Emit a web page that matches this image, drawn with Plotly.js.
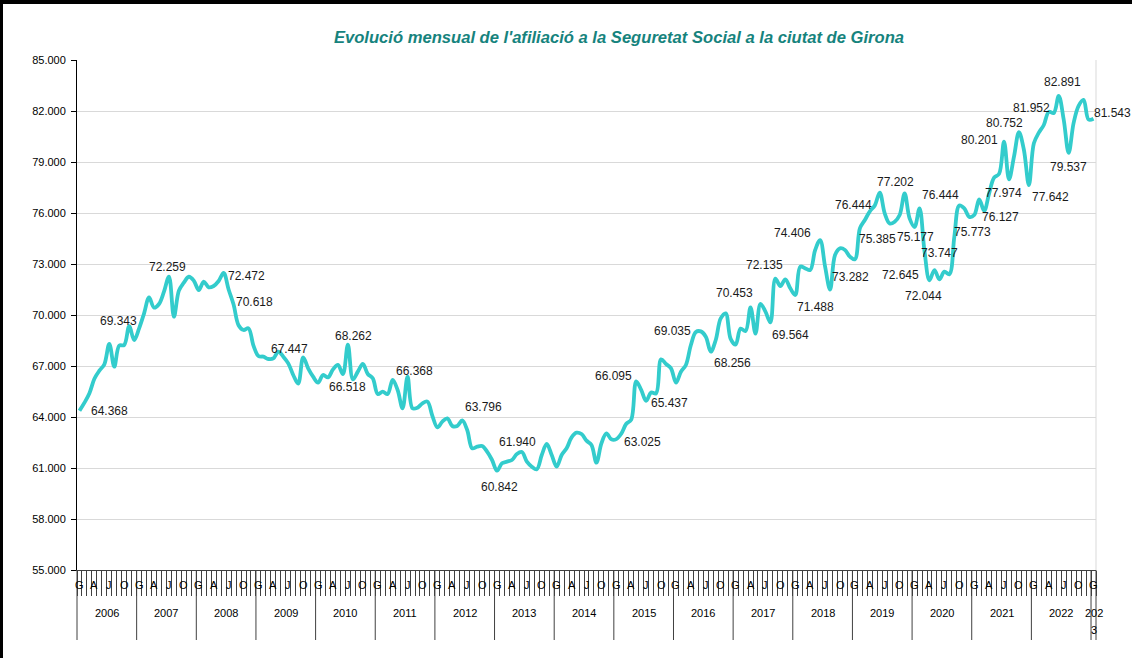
<!DOCTYPE html>
<html>
<head>
<meta charset="utf-8">
<script src="https://cdn.plot.ly/plotly-3.0.1.min.js"></script>
<style>
html,body{margin:0;padding:0;background:#ffffff;}
#chart{width:1132px;height:658px;}
</style>
</head>
<body>
<div id="chart"></div>
<script>
// ---------------- DATA ----------------
const years = ['2006','2007','2008','2009','2010','2011','2012','2013','2014','2015','2016','2017','2018','2019','2020','2021','2022','2023'];
const monthLetters = ['G','A','J','O']; // gener, abril, juliol, octubre

const afiliacio = [
  64368, 64844, 65400, 66250, 66725, 67100, 68300, 66960, 68200, 68236, 69343, 68530, // 2006
  69216, 70098, 71040, 70432, 70648, 71373, 72259, 69900, 71432, 71900, 72250, 72020, // 2007
  71470, 71960, 71628, 71706, 72000, 72472, 71500, 70618, 69400, 69118, 69216, 68200, // 2008
  67588, 67549, 67412, 67447, 67843, 67549, 67157, 66470, 65960, 67510, 66863, 66373, // 2009
  66020, 66470, 66333, 66800, 67060, 66518, 68262, 66216, 66668, 67118, 66530, 66275, // 2010
  65354, 65491, 65354, 66177, 65589, 64510, 66368, 64510, 64550, 64805, 64903, 64059, // 2011
  63393, 63726, 63922, 63471, 63471, 63796, 63236, 62157, 62255, 62295, 61961, 61471, // 2012
  60842, 61275, 61373, 61471, 61824, 61940, 61373, 61079, 60922, 61765, 62412, 61765, // 2013
  61079, 61765, 62157, 62804, 63079, 63000, 62608, 62353, 61313, 62451, 63040, 62686, // 2014
  62700, 63025, 63600, 63850, 66095, 65600, 64950, 65437, 65391, 67391, 67117, 66862, // 2015
  66019, 66666, 67058, 68235, 69000, 69035, 68725, 67843, 68529, 69803, 70097, 68600, // 2016
  68256, 69200, 69050, 70453, 68900, 70650, 70200, 69564, 72135, 71700, 72100, 71568, // 2017
  71176, 72843, 72745, 72647, 73824, 74406, 72843, 71488, 73529, 73921, 73824, 73431, // 2018
  73282, 75098, 75588, 76100, 76444, 77202, 75980, 75385, 75490, 75882, 77157, 75686, // 2019
  75177, 76274, 73747, 72044, 72645, 72100, 72550, 72400, 74607, 76444, 76274, 75773, // 2020
  75882, 76800, 76127, 77157, 78078, 78300, 80201, 77974, 79314, 80752, 79706, 77642, // 2021
  80098, 80726, 81177, 81952, 81882, 82891, 81500, 79537, 81300, 82300, 82650, 81500, // 2022
  81543                                                                               // 2023
];

// months that carry a data label
const labelIdx = [0,10,18,29,31,39,53,54,66,77,84,89,109,112,115,125,132,135,139,140,149,151,
                  156,160,161,163,168,170,171,172,177,179,182,186,187,189,191,195,197,199,204];

// ---------------- STYLE / PLACEMENT ----------------
// label offsets in screen pixels [dx, dy] (dy positive = downwards)
const labelOffset = {
  0:[30,0], 10:[-11,-5], 18:[-1,-10], 29:[23,3], 31:[21,-2], 39:[16,-9], 53:[5,13], 54:[6,-9],
  66:[7,-6], 77:[21,-13], 84:[2,16], 89:[-4,-10], 109:[21,8], 112:[-23,-5], 115:[18,10],
  125:[-28,0], 132:[-3,18], 135:[-16,-14], 139:[20,13], 140:[-11,-14], 149:[-28,-7], 151:[-15,17],
  156:[-4,18], 160:[-21,0], 161:[16,-11], 163:[-12,16], 168:[1,10], 170:[15,2], 171:[-6,16],
  172:[-34,5], 177:[-19,-10], 179:[3,15], 182:[16,6], 186:[-25,-2], 187:[-6,14], 189:[-14,-9],
  191:[22,12], 195:[-17,-4], 197:[4,-14], 199:[0,14], 204:[19,-6]
};

const FONT = 'Liberation Sans, Arial, Helvetica, sans-serif';
const W = 1132, H = 658;
const M = {l:77, r:36, t:60, b:88};
const plotW = W - M.l - M.r, plotH = H - M.t - M.b;

function fmt(v){ return Math.round(v).toString().replace(/\B(?=(\d{3})+(?!\d))/g, '.'); }

const n = afiliacio.length;
const idx = afiliacio.map((_, i) => i);

const trace = {
  x: idx, y: afiliacio, type: 'scatter', mode: 'lines',
  line: {color: '#33CCCC', width: 3.8, shape: 'spline', smoothing: 1},
  hoverinfo: 'skip', showlegend: false
};

const annotations = [];
// data labels
labelIdx.forEach(i => {
  const o = labelOffset[i] || [0, -12];
  annotations.push({
    x: i, y: afiliacio[i], xref: 'x', yref: 'y', text: fmt(afiliacio[i]),
    showarrow: false, xshift: o[0], yshift: -o[1],
    font: {family: FONT, size: 12, color: '#1a1a1a'}
  });
});

// month letters and year labels
const toPaperY = px => -(px) / plotH; // px below the axis line
years.forEach((yr, k) => {
  const start = k * 12;
  const end = Math.min(start + 12, n);
  for (let q = 0; q < monthLetters.length; q++) {
    const m = start + q * 3;
    if (m < n) {
      annotations.push({x: m, y: 0, xref: 'x', yref: 'paper', yanchor: 'middle',
        text: monthLetters[q], showarrow: false, yshift: -15,
        font: {family: FONT, size: 11, color: '#000'}});
    }
  }
  const center = (start + end - 1) / 2;
  if (end - start >= 6) {
    annotations.push({x: center, y: 0, xref: 'x', yref: 'paper', yanchor: 'middle',
      text: yr, showarrow: false, yshift: -43, font: {family: FONT, size: 11, color: '#000'}});
  } else {
    annotations.push({x: center, y: 0, xref: 'x', yref: 'paper', yanchor: 'middle',
      text: yr.slice(0, 3), showarrow: false, yshift: -43, font: {family: FONT, size: 11, color: '#000'}});
    annotations.push({x: center, y: 0, xref: 'x', yref: 'paper', yanchor: 'middle',
      text: yr.slice(3), showarrow: false, yshift: -60, font: {family: FONT, size: 11, color: '#000'}});
  }
});

// shapes: year dividers, right plot border, outer frame
const shapes = [];
const boundaries = [];
years.forEach((yr, k) => boundaries.push(k * 12 - 0.5));
boundaries.push(n - 0.5);
boundaries.forEach(b => {
  const xp = (b + 0.5) / n;
  shapes.push({type: 'line', xref: 'paper', yref: 'paper', x0: xp, x1: xp, y0: 0, y1: toPaperY(70),
    line: {color: '#404040', width: 1}});
});
shapes.push({type: 'line', xref: 'paper', yref: 'paper', x0: 1, x1: 1, y0: 0, y1: 1,
  line: {color: '#d9d9d9', width: 1}});
// outer frame (top and left black border)
const pxX = px => (px - M.l) / plotW;
const pxY = py => (H - M.b - py) / plotH;
shapes.push({type: 'rect', xref: 'paper', yref: 'paper', x0: pxX(0), x1: pxX(W), y0: pxY(0), y1: pxY(4),
  fillcolor: '#000', line: {width: 0}});
shapes.push({type: 'rect', xref: 'paper', yref: 'paper', x0: pxX(0), x1: pxX(3), y0: pxY(0), y1: pxY(H),
  fillcolor: '#000', line: {width: 0}});

const monthTicks = [];
for (let i = 0; i <= n; i++) monthTicks.push(i - 0.5);

const layout = {
  width: W, height: H,
  margin: M,
  paper_bgcolor: '#ffffff', plot_bgcolor: '#ffffff',
  separators: ',.',
  showlegend: false,
  title: {
    text: "<b><i>Evolució mensual de l'afiliació a la Seguretat Social a la ciutat de Girona</i></b>",
    font: {family: 'Liberation Sans Narrow, Liberation Sans, Arial, sans-serif', size: 16.6, color: '#16837d'},
    xref: 'container', x: 619 / W, xanchor: 'center',
    yref: 'container', y: 1 - 37 / H, yanchor: 'middle'
  },
  xaxis: {
    range: [-0.5, n - 0.5], showgrid: false, zeroline: false,
    showline: true, linecolor: '#404040', linewidth: 1,
    tickmode: 'array', tickvals: monthTicks, ticktext: monthTicks.map(() => ''),
    ticks: 'outside', ticklen: 25, tickwidth: 1, tickcolor: '#404040',
    fixedrange: true
  },
  yaxis: {
    range: [55000, 85000], tick0: 55000, dtick: 3000, tickformat: ',d',
    showgrid: true, gridcolor: '#d9d9d9', gridwidth: 1, zeroline: false,
    showline: true, linecolor: '#000', linewidth: 1,
    ticks: 'outside', ticklen: 5, tickcolor: '#000', tickwidth: 1,
    ticklabelstandoff: 3,
    tickfont: {family: FONT, size: 11, color: '#000'},
    fixedrange: true
  },
  annotations: annotations,
  shapes: shapes
};

Plotly.newPlot('chart', [trace], layout, {staticPlot: true, displayModeBar: false});
</script>
</body>
</html>
